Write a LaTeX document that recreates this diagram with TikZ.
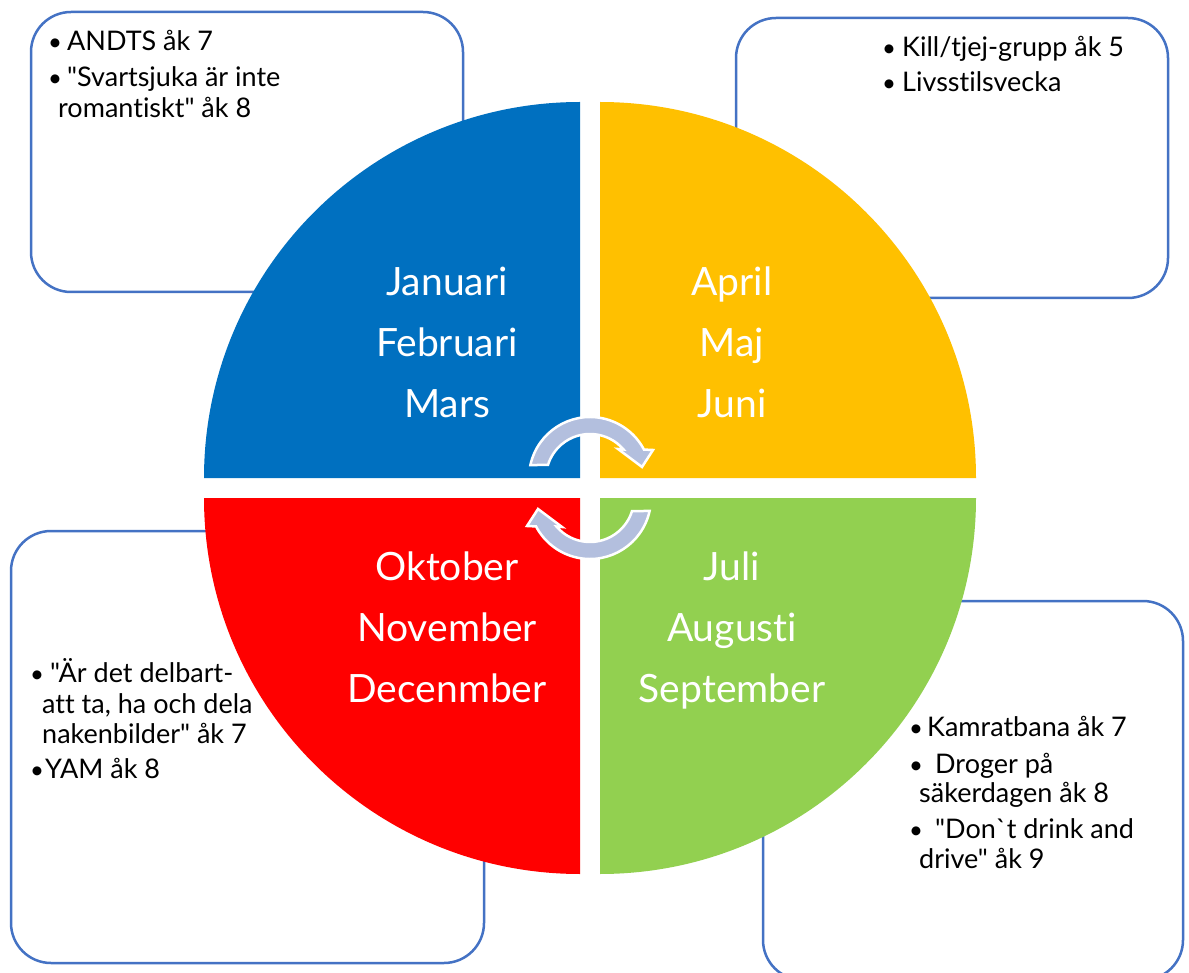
\documentclass[tikz,border=0pt]{standalone}
\usepackage{fontspec}
\setmainfont{Lato}[Ligatures={TeXOff,NoCommon}]
\definecolor{boxblue}{HTML}{4472C4}
\definecolor{qblue}{HTML}{0070C0}
\definecolor{qyellow}{HTML}{FFC000}
\definecolor{qred}{HTML}{FF0000}
\definecolor{qgreen}{HTML}{92D050}
\definecolor{arrowfill}{HTML}{B3BFDE}
\begin{document}
\begin{tikzpicture}[x=1pt,y=-1pt,
  panel/.style={draw=boxblue, line width=2.5pt, fill=white, rounded corners=40pt},
  month/.style={text=white, font=\fontsize{39}{46}\selectfont, anchor=base, inner sep=0pt},
  item/.style={text=black, font=\fontsize{27}{32}\selectfont, anchor=base west, inner sep=0pt},
  dot/.style={text=black, font=\fontsize{24}{32}\selectfont, anchor=base west, inner sep=0pt},
  cyclearrow/.style={fill=arrowfill, draw=white, line width=2.5pt, line join=miter}
]
\useasboundingbox (0,0) rectangle (1189,973);
\fill[white] (0,0) rectangle (1189,973);

% text panels behind the wheel
\draw[panel] (31,12) rectangle (463,292);
\draw[panel] (736,18) rectangle (1168,298);
\draw[panel] (11,531) rectangle (484,963);
\draw[panel] (763,601) rectangle (1183,980);

% four quarters of the year wheel
\fill[qblue]   (580,478) -- (204,478) arc[start angle=180, end angle=270, radius=376] -- cycle;
\fill[qyellow] (600,478) -- (600,102) arc[start angle=270, end angle=360, radius=376] -- cycle;
\fill[qred]    (580,498) -- (580,874) arc[start angle=90,  end angle=180, radius=376] -- cycle;
\fill[qgreen]  (600,498) -- (976,498) arc[start angle=0,   end angle=90,  radius=376] -- cycle;

% circular arrows in the middle
\begin{scope}[shift={(590,478)}]
  \path[cyclearrow] (192.3:61) arc[start angle=192.3, end angle=332.2, radius=61]
    -- (63,-28) -- (52,-11) -- (28,-29) -- (319.6:44)
    arc[start angle=319.6, end angle=197.2, radius=44] -- cycle;
\end{scope}
\begin{scope}[rotate around={180:(590,488)}]
  \begin{scope}[shift={(590,478)}]
    \path[cyclearrow] (192.3:61) arc[start angle=192.3, end angle=332.2, radius=61]
      -- (63,-28) -- (52,-11) -- (28,-29) -- (319.6:44)
      arc[start angle=319.6, end angle=197.2, radius=44] -- cycle;
  \end{scope}
\end{scope}

% month names
\node[month] (jan) at (447,296) {Januari};
\node[month] (feb) at (447,357) {Februari};
\node[month] (mar) at (447,418) {Mars};
\node[month] (apr) at (732,296) {April};
\node[month] (maj) at (732,357) {Maj};
\node[month] (jun) at (732,418) {Juni};
\node[month] (okt) at (447,580) {Oktober};
\node[month] (nov) at (447,641) {November};
\node[month] (dec) at (447,702) {Decenmber};
\node[month] (jul) at (732,580) {Juli};
\node[month] (aug) at (732,641) {Augusti};
\node[month] (sep) at (732,702) {September};

% activities, first quarter
\node[dot]  (tl-b1) at (48,51) {•};
\node[item] (tl-1)  at (67,51) {ANDTS åk 7};
\node[dot]  (tl-b2) at (48,87) {•};
\node[item] (tl-2)  at (67,87) {"Svartsjuka är inte};
\node[item] (tl-3)  at (58,118) {romantiskt" åk 8};

% activities, second quarter
\node[dot]  (tr-b1) at (882,57) {•};
\node[item] (tr-1)  at (902,57) {Kill/tjej-grupp åk 5};
\node[dot]  (tr-b2) at (882,92) {•};
\node[item] (tr-2)  at (902,92) {Livsstilsvecka};

% activities, fourth quarter
\node[dot]  (bl-b1) at (30,682) {•};
\node[item] (bl-1)  at (50,682) {"Är det delbart-};
\node[item] (bl-2)  at (42,713) {att ta, ha och dela};
\node[item] (bl-3)  at (42,743) {nakenbilder" åk 7};
\node[dot]  (bl-b2) at (30,778) {•};
\node[item] (bl-4)  at (45,778) {YAM åk 8};

% activities, third quarter
\node[dot]  (br-b1) at (909,736) {•};
\node[item] (br-1)  at (927,736) {Kamratbana åk 7};
\node[dot]  (br-b2) at (909,773) {•};
\node[item] (br-2)  at (935,773) {Droger på};
\node[item] (br-3)  at (919,802) {säkerdagen åk 8};
\node[dot]  (br-b3) at (909,838) {•};
\node[item] (br-4)  at (935,838) {"Don`t drink and};
\node[item] (br-5)  at (919,868) {drive" åk 9};
\end{tikzpicture}
\end{document}
